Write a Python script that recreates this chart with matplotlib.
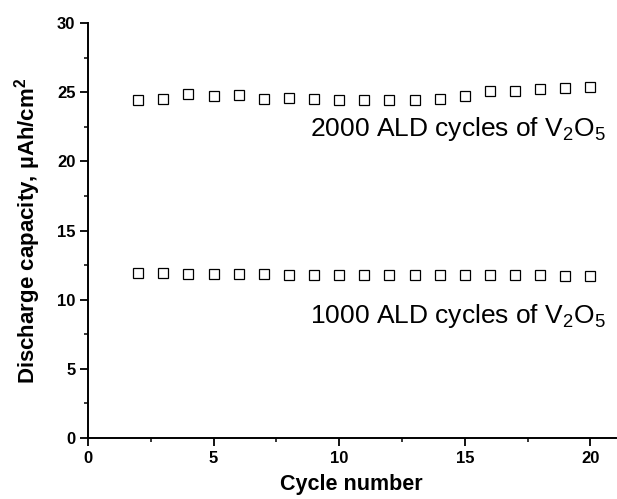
import numpy as np
import matplotlib
matplotlib.use("Agg")
import matplotlib.pyplot as plt
from matplotlib.ticker import MultipleLocator

plt.rcParams['font.family'] = ['Liberation Sans', 'DejaVu Sans']
plt.rcParams['mathtext.fontset'] = 'custom'
plt.rcParams['mathtext.rm'] = 'Liberation Sans'
plt.rcParams['mathtext.bf'] = 'Liberation Sans:bold'

# data
cycles = list(range(2, 21))
cap_2000 = [24.4, 24.5, 24.9, 24.7, 24.8, 24.5, 24.6, 24.5, 24.4, 24.4,
            24.4, 24.4, 24.5, 24.7, 25.1, 25.1, 25.2, 25.3, 25.4]
cap_1000 = [11.95, 11.9, 11.85, 11.85, 11.85, 11.85, 11.75, 11.75, 11.75, 11.75,
            11.8, 11.8, 11.75, 11.75, 11.75, 11.75, 11.75, 11.7, 11.7]
label_2000 = "2000 ALD cycles of V$_2$O$_5$"
label_1000 = "1000 ALD cycles of V$_2$O$_5$"

fig = plt.figure(figsize=(6.17, 4.99), dpi=100)
ax = fig.add_axes([0.1426, 0.1222, 0.855, 0.8317])

for ys in (cap_2000, cap_1000):
    ax.plot(cycles, ys, linestyle='none', marker='s', markersize=6.6,
            markerfacecolor='white', markeredgecolor='black', markeredgewidth=0.9)

ax.text(20.6, 21.8, label_2000, ha='right', va='baseline', fontsize=19)
ax.text(20.6, 8.3, label_1000, ha='right', va='baseline', fontsize=19)

ax.set_xlim(0, 21)
ax.set_ylim(0, 30)
ax.xaxis.set_major_locator(MultipleLocator(5))
ax.xaxis.set_minor_locator(MultipleLocator(2.5))
ax.yaxis.set_major_locator(MultipleLocator(5))
ax.yaxis.set_minor_locator(MultipleLocator(2.5))

ax.spines['top'].set_visible(False)
ax.spines['right'].set_visible(False)
for s in ('left', 'bottom'):
    ax.spines[s].set_linewidth(1.4)
ax.tick_params(which='major', direction='out', length=5.5, width=1.3, labelsize=12)
ax.tick_params(which='minor', direction='out', length=3, width=1.1)
for lab in ax.get_xticklabels() + ax.get_yticklabels():
    lab.set_fontweight('bold')

ax.set_xlabel('Cycle number', fontsize=15.5, fontweight='bold', labelpad=6)
ax.set_ylabel('Discharge capacity, \u00b5Ah/cm$^{\\mathbf{2}}$', fontsize=16,
              fontweight='bold', labelpad=10)

fig.savefig('out.png', dpi=100)
